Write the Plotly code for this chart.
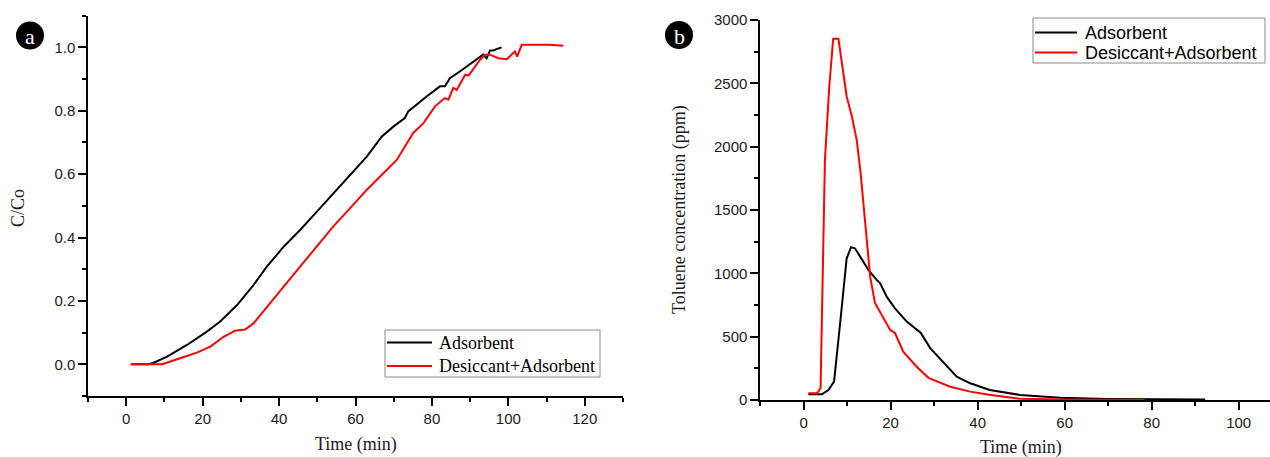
import plotly.graph_objects as go

W, H = 1270, 457

# ---------------- Panel a : breakthrough curves (C/Co) ----------------
a_ads_t = [1.5, 5.9, 7.2, 10.7, 15.9, 21.1, 24.6, 29.0, 33.3, 36.8, 41.2, 45.5, 49.9,
           54.2, 58.6, 63.0, 66.9, 69.9, 72.9, 73.8, 78.6, 82.1, 83.4, 84.7, 87.3,
           90.8, 93.4, 94.3, 95.2, 96.0, 98.2]
a_ads_c = [0.0, 0.0, 0.005, 0.024, 0.061, 0.103, 0.135, 0.187, 0.250, 0.308, 0.371,
           0.424, 0.482, 0.540, 0.598, 0.656, 0.719, 0.750, 0.777, 0.798, 0.845, 0.877,
           0.877, 0.903, 0.924, 0.956, 0.977, 0.966, 0.990, 0.990, 1.0]

a_des_t = [1.1, 9.4, 14.1, 18.5, 22.0, 25.5, 28.5, 31.1, 33.3, 36.8, 41.2, 45.5, 49.9,
           54.2, 58.6, 63.0, 66.9, 70.8, 75.1, 77.8, 80.8, 83.4, 84.3, 85.6, 86.5,
           88.7, 89.6, 92.6, 93.9, 95.2, 97.4, 99.6, 101.7, 102.3, 103.5, 107.4,
           110.9, 114.4]
a_des_c = [0.0, 0.0, 0.019, 0.037, 0.056, 0.087, 0.106, 0.110, 0.129, 0.182, 0.245,
           0.308, 0.371, 0.435, 0.493, 0.551, 0.598, 0.645, 0.730, 0.761, 0.814, 0.840,
           0.835, 0.872, 0.866, 0.914, 0.911, 0.961, 0.977, 0.977, 0.966, 0.963, 0.987,
           0.971, 1.008, 1.008, 1.008, 1.005]

# ---------------- Panel b : toluene concentration (ppm) ----------------
b_ads_t = [1.1, 4.2, 5.7, 7.0, 8.4, 9.9, 10.9, 11.8, 13.0, 14.9, 16.8, 17.6, 19.1,
           21.0, 23.7, 26.0, 26.9, 29.1, 33.7, 35.2, 38.3, 42.8, 49.7, 59.0, 69.7,
           81.2, 92.3]
b_ads_c = [45, 45, 79, 145, 608, 1119, 1206, 1198, 1132, 1027, 948, 921, 816,
           724, 619, 553, 532, 410, 237, 184, 132, 79, 40, 18, 8, 5, 3]

b_des_t = [1.1, 3.1, 3.9, 4.5, 4.9, 5.9, 6.8, 8.0, 9.9, 11.1, 12.2, 13.1, 14.1, 15.3,
           16.4, 17.6, 19.9, 21.0, 22.9, 26.0, 28.7, 33.7, 38.3, 42.6, 49.7, 58.9, 78.3]
b_des_c = [53, 53, 95, 1343, 1896, 2475, 2852, 2852, 2396, 2238, 2054, 1793, 1398, 974,
           766, 690, 553, 529, 382, 263, 175, 105, 66, 42, 10, 3, 0]

series_names = ["Adsorbent", "Desiccant+Adsorbent"]
series_colors = ["#000000", "#ff0000"]

SANS = "Liberation Sans, Arial, sans-serif"
SERIF = "Liberation Serif, Times New Roman, serif"

fig = go.Figure()
panel_data = [("x", "y", [(a_ads_t, a_ads_c), (a_des_t, a_des_c)]),
              ("x2", "y2", [(b_ads_t, b_ads_c), (b_des_t, b_des_c)])]
for xa, ya, series in panel_data:
    for (t, c), name, col in zip(series, series_names, series_colors):
        fig.add_trace(go.Scatter(x=t, y=c, mode="lines", name=name,
                                 line=dict(color=col, width=2),
                                 xaxis=xa, yaxis=ya, showlegend=False))


def ax(**kw):
    base = dict(showgrid=False, zeroline=False, showline=True, linecolor="black",
                linewidth=1.5, ticks="outside", ticklen=8, tickwidth=1.5,
                tickcolor="black", automargin=False,
                tickfont=dict(family=SANS, size=15, color="#1a1a1a"))
    base.update(kw)
    return base


def minor(d):
    return dict(dtick=d, tick0=0, ticklen=4, ticks="outside",
                tickcolor="black", tickwidth=1.5)


fig.update_layout(
    width=W, height=H,
    margin=dict(l=0, r=0, t=0, b=0, autoexpand=False),
    paper_bgcolor="white", plot_bgcolor="white",
    showlegend=False,
    xaxis=ax(domain=[88 / W, 623 / W], range=[-10, 130], tick0=0, dtick=20,
             minor=minor(10), anchor="y"),
    yaxis=ax(domain=[1 - 396 / H, 1 - 15.7 / H], range=[-0.1, 1.1], tick0=0, dtick=0.2,
             tickformat=".1f", minor=minor(0.1), anchor="x"),
    xaxis2=ax(domain=[760.1 / W, 1.0], range=[-10, 107.2], tick0=0, dtick=20,
              minor=minor(10), anchor="y2"),
    yaxis2=ax(domain=[1 - 400 / H, 1 - 20 / H], range=[0, 3000], tick0=0, dtick=500,
              minor=minor(250), anchor="x2"),
)


def px(xp):
    return xp / W


def py(yp):
    return 1 - yp / H


# legends (drawn as boxes with sample lines and labels)
legend_specs = [
    # box x0, x1, y0, y1, line x0, x1, text x, row ys, font
    (385, 600, 330, 377, 387, 432, 437, [342.5, 366], SERIF),
    (1033, 1265, 18, 63, 1035, 1077, 1083, [32.5, 52.5], SANS),
]
for bx0, bx1, by0, by1, lx0, lx1, tx, rows, fam in legend_specs:
    fig.add_shape(type="rect", xref="paper", yref="paper",
                  x0=px(bx0), x1=px(bx1), y0=py(by1), y1=py(by0),
                  line=dict(color="#8a8a8a", width=1), fillcolor="white", layer="above")
    for name, col, ry in zip(series_names, series_colors, rows):
        fig.add_shape(type="line", xref="paper", yref="paper",
                      x0=px(lx0), x1=px(lx1), y0=py(ry), y1=py(ry),
                      line=dict(color=col, width=2), layer="above")
        fig.add_annotation(text=name, x=px(tx), y=py(ry), xref="paper", yref="paper",
                           showarrow=False, xanchor="left", yanchor="middle",
                           font=dict(family=fam, size=18, color="black"))

# axis titles
title_font = dict(family=SERIF, size=18, color="#1a1a1a")
fig.add_annotation(text="Time (min)", x=px(356), y=py(444), xref="paper", yref="paper",
                   showarrow=False, font=title_font, xanchor="center", yanchor="middle")
fig.add_annotation(text="Time (min)", x=px(1021), y=py(447), xref="paper", yref="paper",
                   showarrow=False, font=title_font, xanchor="center", yanchor="middle")
fig.add_annotation(text="C/Co", x=px(18), y=py(208), xref="paper", yref="paper",
                   showarrow=False, font=title_font, textangle=-90,
                   xanchor="center", yanchor="middle")
fig.add_annotation(text="Toluene concentration (ppm)", x=px(680), y=py(210),
                   xref="paper", yref="paper", showarrow=False, font=title_font,
                   textangle=-90, xanchor="center", yanchor="middle")

# panel badges
for label, cx, cy in [("a", 30, 35.5), ("b", 679, 35)]:
    r = 14
    fig.add_shape(type="circle", xref="paper", yref="paper",
                  x0=px(cx - r), x1=px(cx + r), y0=py(cy + r), y1=py(cy - r),
                  fillcolor="black", line=dict(color="black", width=0))
    fig.add_annotation(text=label, x=px(cx), y=py(cy + 1), xref="paper", yref="paper",
                       showarrow=False, font=dict(family=SERIF, size=22, color="white"),
                       xanchor="center", yanchor="middle")

fig.write_html("out.html",
               config={"displayModeBar": False},
               post_script="document.body.style.margin='0';"
                           "document.body.style.overflow='hidden';")
